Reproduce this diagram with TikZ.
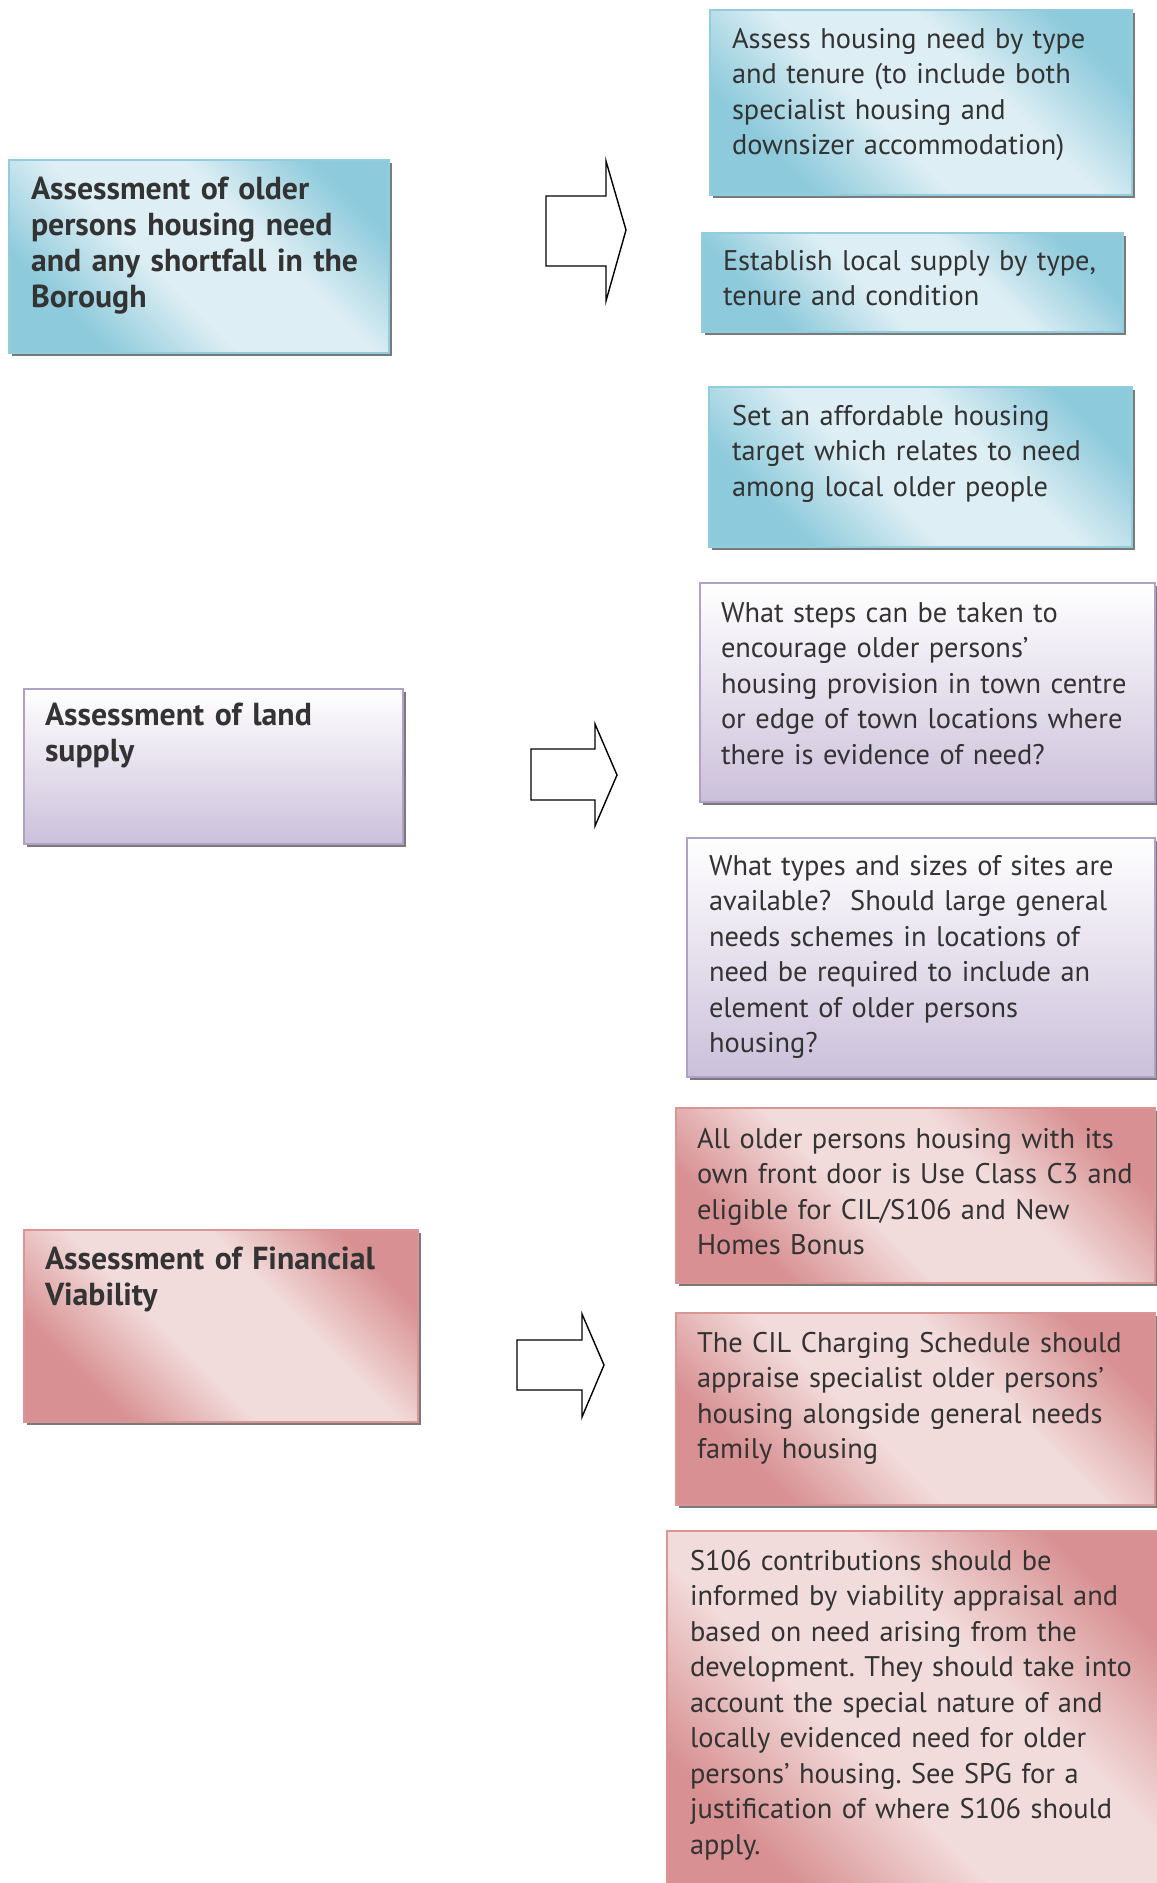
\documentclass[tikz,border=0pt]{standalone}
\usepackage{fontspec}
\setmainfont{PT Sans}
\usetikzlibrary{shadows}
\frenchspacing
\definecolor{bluedark}{HTML}{8DCADB}
\definecolor{bluelight}{HTML}{DDEEF4}
\definecolor{blueedge}{HTML}{92CDDD}
\definecolor{purplebot}{HTML}{CBC0DA}
\definecolor{purpleedge}{HTML}{B2A1C7}
\definecolor{reddark}{HTML}{D89092}
\definecolor{redlight}{HTML}{F2DCDB}
\definecolor{rededge}{HTML}{D99694}
\definecolor{txtgray}{HTML}{333333}
\definecolor{shadowgray}{HTML}{7A7A7A}
\pgfdeclareverticalshading{bluediag}{100bp}{color(0bp)=(bluedark); color(27bp)=(bluedark); color(43bp)=(bluelight); color(60bp)=(bluelight); color(76bp)=(bluedark); color(100bp)=(bluedark)}
\pgfdeclareverticalshading{reddiag}{100bp}{color(0bp)=(reddark); color(27bp)=(reddark); color(43bp)=(redlight); color(60bp)=(redlight); color(76bp)=(reddark); color(100bp)=(reddark)}
\begin{document}
\frenchspacing
\begin{tikzpicture}[x=1pt,y=-1pt,
  boxbase/.style={rectangle, anchor=north west, inner sep=0pt, outer sep=0pt, line width=2pt,
    general shadow={fill=shadowgray, shadow xshift=3pt, shadow yshift=-3pt}},
  bluebox/.style={boxbase, draw=blueedge, shading=bluediag, shading angle=-45},
  purplebox/.style={boxbase, draw=purpleedge, shading=axis, top color=white, bottom color=purplebot},
  redbox/.style={boxbase, draw=rededge, shading=reddiag, shading angle=-45},
  bodytxt/.style={anchor=base west, inner sep=0pt, outer sep=0pt, text width=470pt, align=left, text=txtgray,
    font=\fontsize{28.4}{35.5}\selectfont\frenchspacing},
  headtxt/.style={anchor=base west, inner sep=0pt, outer sep=0pt, text width=390pt, align=left, text=txtgray,
    font=\fontsize{31.8}{36}\selectfont\bfseries},
  blockarrow/.style={draw=black, fill=white, line width=1.4pt, line join=miter}
]
\useasboundingbox (0,0) rectangle (1157,1883);
\clip (0,0) rectangle (1157,1883);

% ---------- Section 1: housing need (blue) ----------
\node[bluebox, minimum width=380pt, minimum height=193pt] (need) at (9,160) {};
\node[headtxt] (needtxt) at (31,199) {Assessment of older\\persons housing need\\and any shortfall in the\\Borough};

\draw[blockarrow] (546,196) -- (606,196) -- (606,161) -- (626,230) -- (606,301) -- (606,266) -- (546,266) -- cycle;

\node[bluebox, minimum width=422pt, minimum height=185pt] (assess) at (710,10) {};
\node[bodytxt] (assesstxt) at (732,48) {Assess housing need by type\\and tenure (to include both\\specialist housing and\\downsizer accommodation)};

\node[bluebox, minimum width=421pt, minimum height=99pt] (supply) at (702,233) {};
\node[bodytxt] (supplytxt) at (723,270) {Establish local supply by type,\\tenure and condition};

\node[bluebox, minimum width=423pt, minimum height=160pt] (target) at (709,387) {};
\node[bodytxt] (targettxt) at (732,425) {Set an affordable housing\\target which relates to need\\among local older people};

% ---------- Section 2: land supply (purple) ----------
\node[purplebox, minimum width=379pt, minimum height=155pt] (land) at (24,689) {};
\node[headtxt] (landtxt) at (45,725) {Assessment of land\\supply};

\draw[blockarrow] (531,749) -- (595,749) -- (595,724) -- (617,775) -- (595,826) -- (595,800) -- (531,800) -- cycle;

\node[purplebox, minimum width=455pt, minimum height=219pt] (steps) at (700,583) {};
\node[bodytxt] (stepstxt) at (721,622) {What steps can be taken to\\encourage older persons’\\housing provision in town centre\\or edge of town locations where\\there is evidence of need?};

\node[purplebox, minimum width=468pt, minimum height=239pt] (sites) at (687,838) {};
\node[bodytxt] (sitestxt) at (709,875) {What types and sizes of sites are\\available?\ \ Should large general\\needs schemes in locations of\\need be required to include an\\element of older persons\\housing?};

% ---------- Section 3: financial viability (red) ----------
\node[redbox, minimum width=394pt, minimum height=192pt] (fin) at (24,1230) {};
\node[headtxt] (fintxt) at (45,1269) {Assessment of Financial\\Viability};

\draw[blockarrow] (517,1340) -- (582,1340) -- (582,1314) -- (604,1365) -- (582,1417) -- (582,1390) -- (517,1390) -- cycle;

\node[redbox, minimum width=479pt, minimum height=175pt] (useclass) at (676,1108) {};
\node[bodytxt] (useclasstxt) at (697,1148) {All older persons housing with its\\own front door is Use Class C3 and\\eligible for CIL/S106 and New\\Homes Bonus};

\node[redbox, minimum width=479pt, minimum height=192pt] (cil) at (676,1313) {};
\node[bodytxt] (ciltxt) at (697,1352) {The CIL Charging Schedule should\\appraise specialist older persons’\\housing alongside general needs\\family housing};

\node[redbox, minimum width=500pt, minimum height=380pt] (s106) at (667,1531) {};
\node[bodytxt] (s106txt) at (690,1570) {S106 contributions should be\\informed by viability appraisal and\\based on need arising from the\\development. They should take into\\account the special nature of and\\locally evidenced need for older\\persons’ housing. See SPG for a\\justification of where S106 should\\apply.};
\end{tikzpicture}
\end{document}
